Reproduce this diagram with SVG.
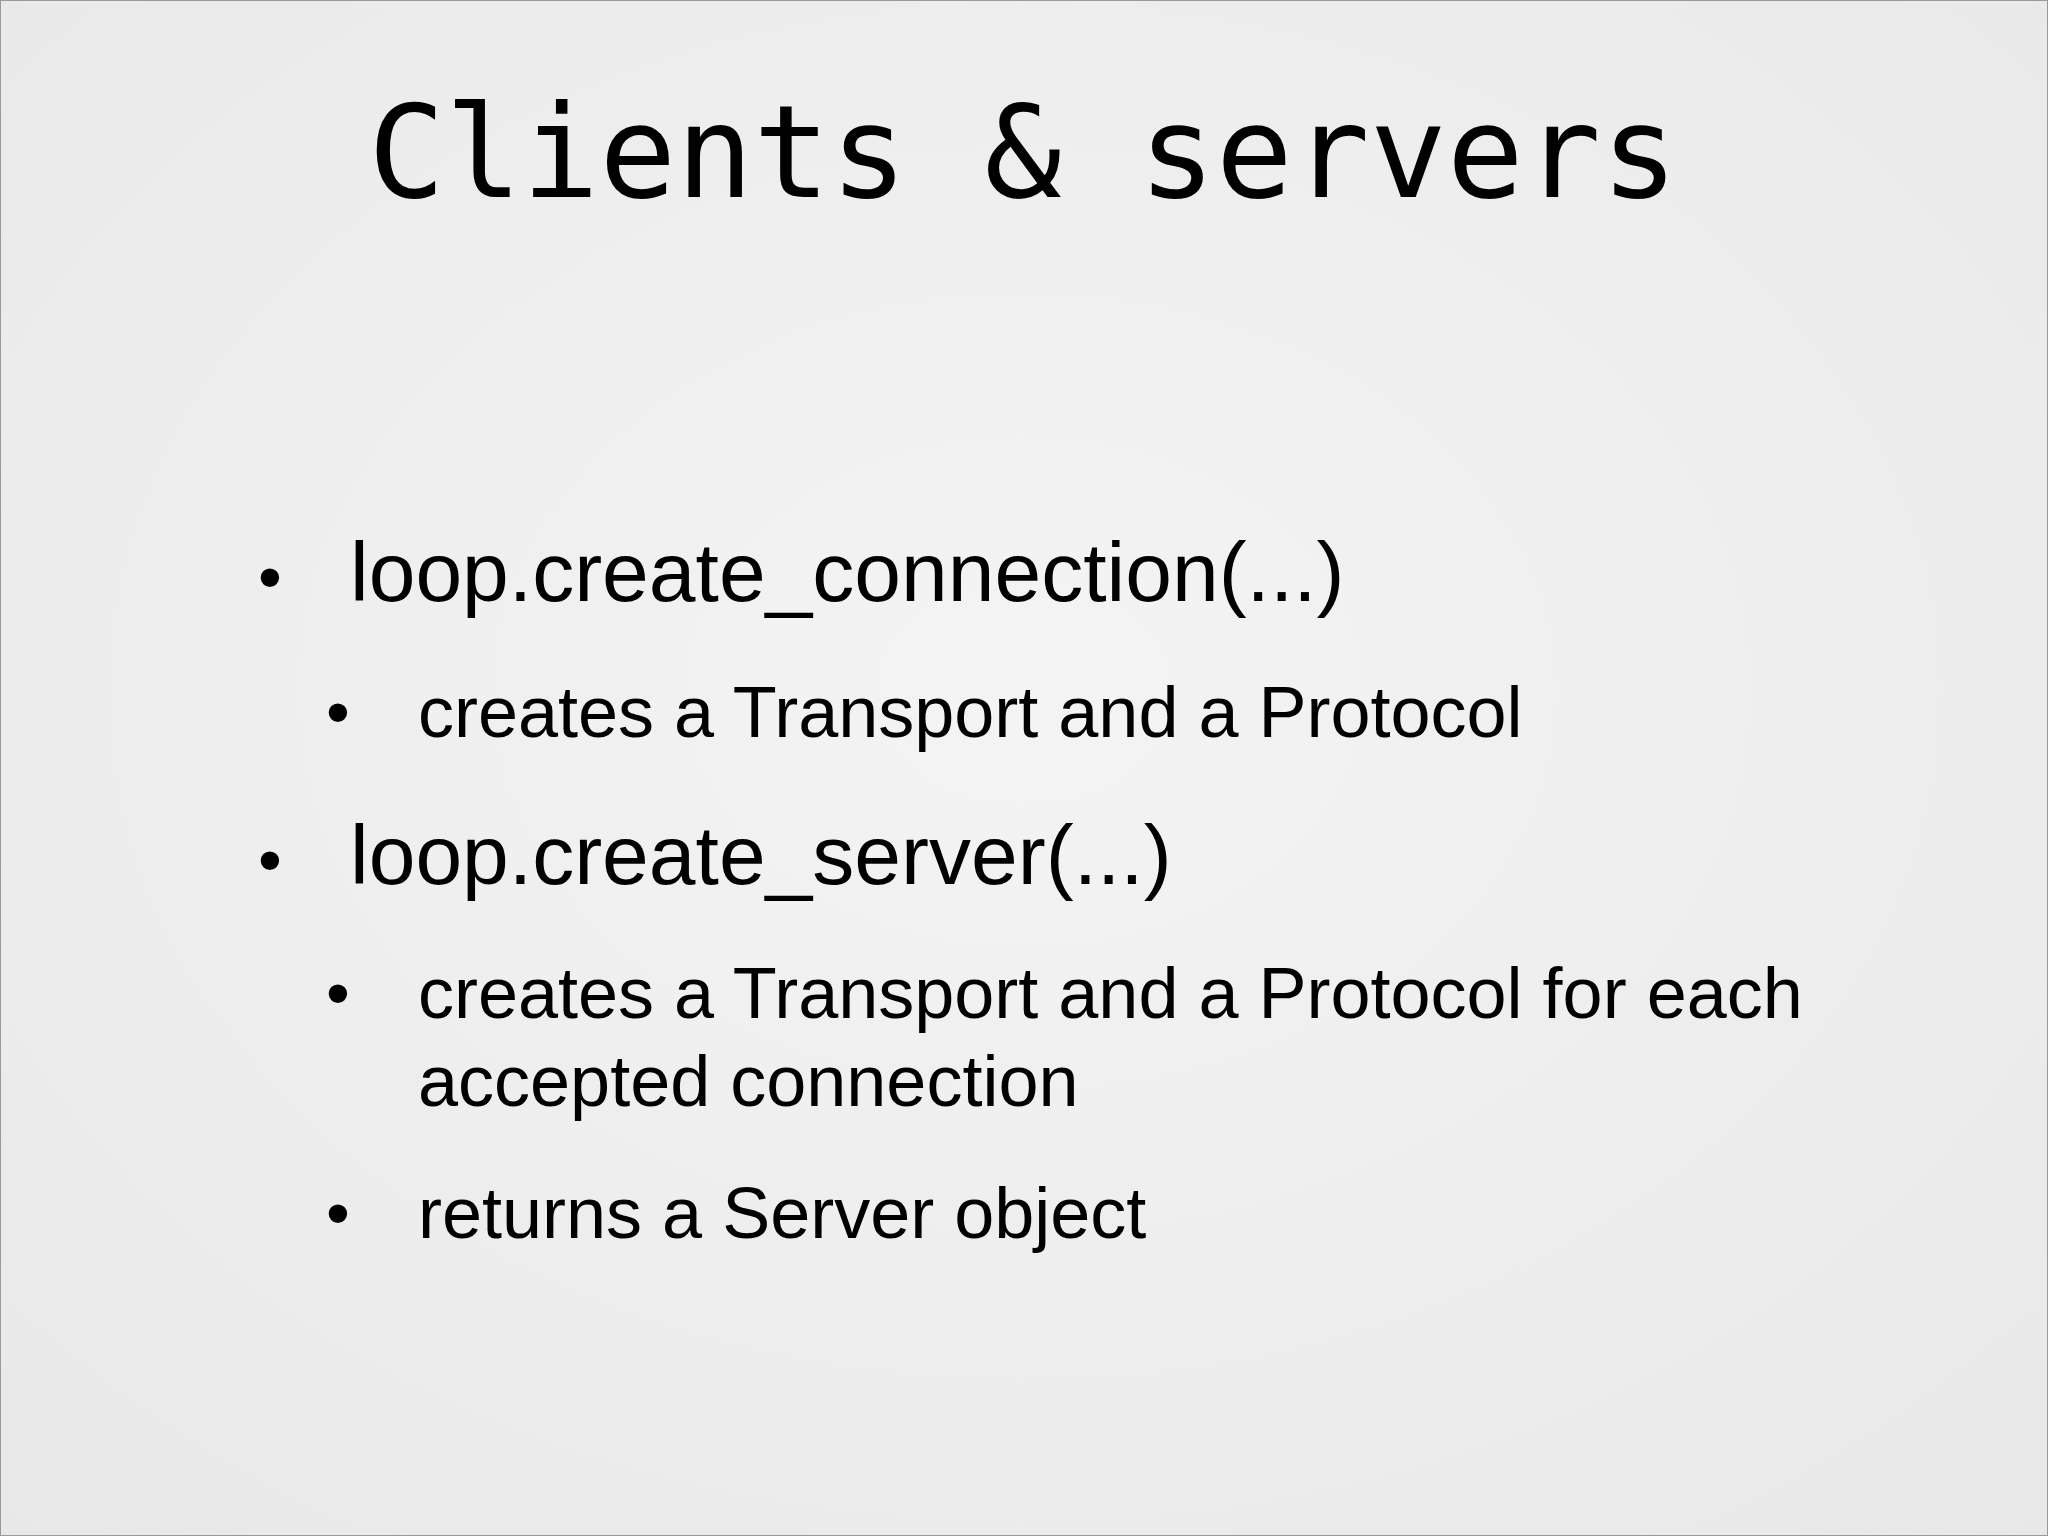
<svg xmlns="http://www.w3.org/2000/svg" width="2048" height="1536" viewBox="0 0 2048 1536">
<defs>
<radialGradient id="bg" cx="50%" cy="45%" r="75%">
<stop offset="0" stop-color="#f4f4f4"/><stop offset="1" stop-color="#e8e8e8"/>
</radialGradient>
<style>
.t{font-family:"DejaVu Sans Mono","Liberation Mono",monospace;font-size:128px;fill:#000}
.b1{font-family:"Liberation Sans",Arial,sans-serif;font-size:84px;fill:#000}
.b2{font-family:"Liberation Sans",Arial,sans-serif;font-size:72px;fill:#000}
.d{font-family:"Liberation Sans",Arial,sans-serif;font-size:68px;fill:#000}
</style>
</defs>
<rect x="0.5" y="0.5" width="2047" height="1535" fill="url(#bg)" stroke="#999" stroke-width="1"/>
<g id="title"><text class="t" x="1023" y="197" text-anchor="middle">Clients &amp; servers</text></g>
<g id="bullets">
<text class="d" x="258" y="600">•</text>
<text class="b1" x="350" y="601">loop.create_connection(...)</text>
<text class="d" x="326" y="735">•</text>
<text class="b2" x="418" y="737">creates a Transport and a Protocol</text>
<text class="d" x="258" y="883">•</text>
<text class="b1" x="350" y="884">loop.create_server(...)</text>
<text class="d" x="326" y="1016">•</text>
<text class="b2" x="418" y="1018">creates a Transport and a Protocol for each</text>
<text class="b2" x="418" y="1106">accepted connection</text>
<text class="d" x="326" y="1236">•</text>
<text class="b2" x="418" y="1238">returns a Server object</text>
</g>
</svg>
